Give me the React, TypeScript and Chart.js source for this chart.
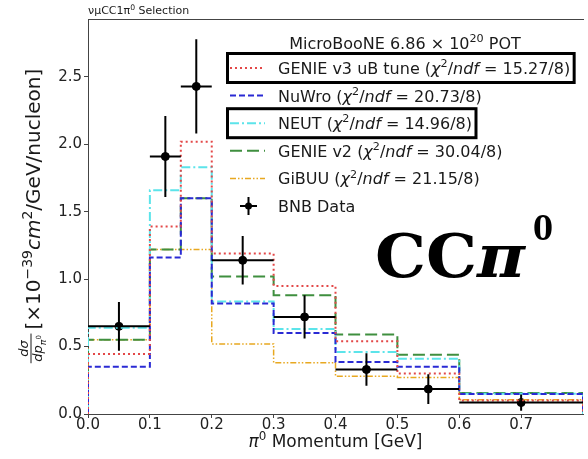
import React, { useEffect, useRef } from 'react';
import { Chart, registerables } from 'chart.js';

Chart.register(...registerables);

// Bin edges of the pi0 momentum histogram [GeV]
const binEdges = [0, 0.1, 0.15, 0.2, 0.3, 0.4, 0.5, 0.6, 0.8];
const xTickValues = [0, 0.1, 0.2, 0.3, 0.4, 0.5, 0.6, 0.7];
const yTickValues = [0, 0.5, 1.0, 1.5, 2.0, 2.5];

// Measured cross section (BNB data) and uncertainties, per bin
const dataValues = [0.65, 1.91, 2.43, 1.14, 0.72, 0.33, 0.185, 0.085];
const dataErrors = [0.18, 0.3, 0.35, 0.18, 0.16, 0.12, 0.11, 0.06];

// Generator predictions, per bin
const genieV3Values = [0.445, 1.39, 2.02, 1.19, 0.95, 0.54, 0.3, 0.1];
const nuwroValues = [0.35, 1.16, 1.6, 0.82, 0.6, 0.385, 0.35, 0.148];
const neutValues = [0.64, 1.66, 1.83, 0.835, 0.63, 0.46, 0.41, 0.15];
const genieV2Values = [0.55, 1.22, 1.6, 1.02, 0.88, 0.59, 0.44, 0.155];
const gibuuValues = [0.55, 1.22, 1.22, 0.52, 0.38, 0.28, 0.27, 0.105];

const modelNames = ['GENIE v3 uB tune', 'NuWro', 'NEUT', 'GENIE v2', 'GiBUU'];
const chi2Labels = ['15.27/8', '20.73/8', '14.96/8', '30.04/8', '21.15/8'];
const boxedModels = [0, 2];

const FONT = 'DejaVu Sans';
const SERIF = 'DejaVu Serif';

type Style = { color: string; width: number; dash: number[] };
const modelStyles: Style[] = [
  { color: '#e34848', width: 2, dash: [2, 3] },
  { color: '#2a2ad4', width: 2, dash: [6, 3] },
  { color: '#5ce4ea', width: 2, dash: [9, 3, 2, 3] },
  { color: '#3f8f3f', width: 2, dash: [12, 5] },
  { color: '#e8a820', width: 1.5, dash: [6, 2, 1.5, 2, 1.5, 2] },
];
const modelValues = [genieV3Values, nuwroValues, neutValues, genieV2Values, gibuuValues];

// Outline of a step histogram: rise at the first edge, one level per bin, drop at the last edge
function stepPoints(values: number[]) {
  const pts: { x: number; y: number }[] = [{ x: binEdges[0], y: 0 }];
  values.forEach((v, i) => pts.push({ x: binEdges[i], y: v }));
  pts.push({ x: binEdges[binEdges.length - 1], y: values[values.length - 1] });
  pts.push({ x: binEdges[binEdges.length - 1], y: 0 });
  return pts;
}

type Run = { t: string; it?: boolean; b?: boolean; s?: number; dy?: number; fam?: string };

function runFont(r: Run, size: number, fam: string) {
  return `${r.it ? 'italic ' : ''}${r.b ? 'bold ' : ''}${size * (r.s ?? 1)}px "${r.fam ?? fam}"`;
}
function measureRuns(ctx: CanvasRenderingContext2D, runs: Run[], size: number, fam: string) {
  let w = 0;
  for (const r of runs) {
    ctx.font = runFont(r, size, fam);
    w += ctx.measureText(r.t).width;
  }
  return w;
}
function drawRuns(ctx: CanvasRenderingContext2D, runs: Run[], x: number, y: number, size: number, fam: string) {
  let cx = x;
  ctx.textAlign = 'left';
  ctx.textBaseline = 'alphabetic';
  for (const r of runs) {
    ctx.font = runFont(r, size, fam);
    ctx.fillText(r.t, cx, y + (r.dy ?? 0) * size);
    cx += ctx.measureText(r.t).width;
  }
  return cx;
}

const decorPlugin = {
  id: 'decor',
  afterDatasetsDraw(chart: any) {
    const ctx: CanvasRenderingContext2D = chart.ctx;
    const xs = chart.scales.x;
    const ys = chart.scales.y;
    const area = chart.chartArea;

    // error bars of the data points
    ctx.save();
    ctx.beginPath();
    ctx.rect(area.left, area.top, area.right - area.left, area.bottom - area.top);
    ctx.clip();
    ctx.strokeStyle = '#000';
    ctx.lineWidth = 2;
    dataValues.forEach((v, i) => {
      const xc = xs.getPixelForValue((binEdges[i] + binEdges[i + 1]) / 2);
      const y = ys.getPixelForValue(v);
      ctx.beginPath();
      ctx.moveTo(xs.getPixelForValue(binEdges[i]), y);
      ctx.lineTo(xs.getPixelForValue(binEdges[i + 1]), y);
      ctx.moveTo(xc, ys.getPixelForValue(v - dataErrors[i]));
      ctx.lineTo(xc, ys.getPixelForValue(v + dataErrors[i]));
      ctx.stroke();
    });
    ctx.restore();
  },
  afterDraw(chart: any) {
    const ctx: CanvasRenderingContext2D = chart.ctx;
    const area = chart.chartArea;
    ctx.save();

    // top frame line
    ctx.strokeStyle = '#444';
    ctx.lineWidth = 1;
    ctx.beginPath();
    ctx.moveTo(area.left, area.top + 0.5);
    ctx.lineTo(area.right + 1, area.top + 0.5);
    ctx.stroke();

    ctx.fillStyle = '#1a1a1a';

    // selection title
    drawRuns(ctx, [{ t: 'νμCC1π' }, { t: '0', s: 0.7, dy: -0.4 }, { t: ' Selection' }], area.left, 14, 11, FONT);

    // x axis title
    const xRuns: Run[] = [{ t: 'π', it: true }, { t: '0', s: 0.7, dy: -0.42 }, { t: ' Momentum [GeV]' }];
    const xw = measureRuns(ctx, xRuns, 17, FONT);
    drawRuns(ctx, xRuns, (area.left + area.right) / 2 - xw / 2, 447, 17, FONT);

    // y axis title (rotated)
    ctx.save();
    ctx.translate(40, 216);
    ctx.rotate(-Math.PI / 2);
    const fs = 13;
    const numRuns: Run[] = [{ t: 'dσ', it: true }];
    const denRuns: Run[] = [{ t: 'dp', it: true }, { t: 'π', it: true, s: 0.72, dy: 0.3 }, { t: '0', s: 0.55, dy: -0.05 }];
    const numW = measureRuns(ctx, numRuns, fs, FONT);
    const denW = measureRuns(ctx, denRuns, fs, FONT);
    const fracW = Math.max(numW, denW) + 3;
    const mainRuns: Run[] = [
      { t: '[×10' },
      { t: '−39', s: 0.7, dy: -0.42 },
      { t: 'cm', it: true },
      { t: '2', s: 0.7, dy: -0.42 },
      { t: '/GeV/nucleon]' },
    ];
    const mainW = measureRuns(ctx, mainRuns, 20, FONT);
    const total = fracW + 4 + mainW;
    const u0 = -total / 2;
    drawRuns(ctx, numRuns, u0 + (fracW - numW) / 2, -12, fs, FONT);
    drawRuns(ctx, denRuns, u0 + (fracW - denW) / 2, 2, fs, FONT);
    ctx.strokeStyle = '#1a1a1a';
    ctx.lineWidth = 1;
    ctx.beginPath();
    ctx.moveTo(u0, -9);
    ctx.lineTo(u0 + fracW, -9);
    ctx.stroke();
    drawRuns(ctx, mainRuns, u0 + fracW + 4, 0, 20, FONT);
    ctx.restore();

    // legend header
    const hRuns: Run[] = [{ t: 'MicroBooNE 6.86 × 10' }, { t: '20', s: 0.7, dy: -0.42 }, { t: ' POT' }];
    const hw = measureRuns(ctx, hRuns, 16, FONT);
    drawRuns(ctx, hRuns, 405 - hw / 2, 49, 16, FONT);

    // legend entries
    const rowY = (i: number) => 68 + i * 27.6;
    modelNames.forEach((name, i) => {
      const st = modelStyles[i];
      const y = rowY(i);
      ctx.strokeStyle = st.color;
      ctx.lineWidth = st.width;
      ctx.setLineDash(st.dash);
      ctx.beginPath();
      ctx.moveTo(230, y);
      ctx.lineTo(265, y);
      ctx.stroke();
      ctx.setLineDash([]);
      ctx.fillStyle = '#1a1a1a';
      const runs: Run[] = [
        { t: name + ' (' },
        { t: 'χ', it: true },
        { t: '2', s: 0.7, dy: -0.42 },
        { t: '/' },
        { t: 'ndf', it: true },
        { t: ' = ' + chi2Labels[i] + ')' },
      ];
      const end = drawRuns(ctx, runs, 278, y + 6, 16, FONT);
      if (boxedModels.includes(i)) {
        ctx.strokeStyle = '#000';
        ctx.lineWidth = 3;
        ctx.strokeRect(227.5, y - 14.5, end - 227.5 + 4, 29);
      }
    });
    // data legend handle
    const dy = rowY(5);
    ctx.strokeStyle = '#000';
    ctx.lineWidth = 2;
    ctx.beginPath();
    ctx.moveTo(240, dy);
    ctx.lineTo(257, dy);
    ctx.moveTo(248.5, dy - 9);
    ctx.lineTo(248.5, dy + 9);
    ctx.stroke();
    ctx.fillStyle = '#000';
    ctx.beginPath();
    ctx.arc(248.5, dy, 3.5, 0, Math.PI * 2);
    ctx.fill();
    ctx.fillStyle = '#1a1a1a';
    drawRuns(ctx, [{ t: 'BNB Data' }], 278, dy + 6, 16, FONT);

    // process label
    ctx.fillStyle = '#000';
    const drawStretched = (r: Run, size: number, x: number, y: number, w: number) => {
      ctx.font = runFont(r, size, SERIF);
      const m = ctx.measureText(r.t).width;
      ctx.save();
      ctx.translate(x, y);
      ctx.scale(w / m, 1);
      ctx.textAlign = 'left';
      ctx.fillText(r.t, 0, 0);
      ctx.restore();
    };
    drawStretched({ t: 'CC', b: true }, 60, 375, 277, 102);
    drawStretched({ t: 'π', b: true, it: true }, 60, 477, 277, 48);
    drawStretched({ t: '0', b: true }, 34, 533, 240, 20);

    ctx.restore();
  },
};

export default function App() {
  const ref = useRef<HTMLCanvasElement>(null);
  useEffect(() => {
    const canvas = ref.current!;
    const histDatasets = modelValues.map((vals, i) => ({
      type: 'line' as const,
      label: modelNames[i],
      data: stepPoints(vals),
      stepped: 'before' as const,
      borderColor: modelStyles[i].color,
      borderWidth: modelStyles[i].width,
      borderDash: modelStyles[i].dash,
      pointRadius: 0,
      fill: false,
      tension: 0,
    }));
    const dataset = {
      type: 'line' as const,
      label: 'BNB Data',
      data: dataValues.map((v, i) => ({ x: (binEdges[i] + binEdges[i + 1]) / 2, y: v })),
      showLine: false,
      pointRadius: 4,
      pointBackgroundColor: '#000',
      pointBorderColor: '#000',
      borderColor: '#000',
    };
    const tickFont = { family: FONT, size: 15 };
    const chart = new Chart(canvas, {
      type: 'line',
      data: { datasets: [...histDatasets, dataset] as any },
      options: {
        responsive: false,
        animation: false,
        devicePixelRatio: 1,
        events: [],
        layout: { padding: { left: 0, top: 19, right: 1, bottom: 0 } },
        plugins: { legend: { display: false }, tooltip: { enabled: false } },
        scales: {
          x: {
            type: 'linear',
            min: 0,
            max: 0.8,
            afterBuildTicks: (s: any) => {
              s.ticks = xTickValues.map((v) => ({ value: v }));
            },
            afterFit: (s: any) => {
              s.height = 45;
            },
            ticks: {
              callback: (v: any) => Number(v).toFixed(1),
              font: tickFont,
              color: '#222',
              padding: -2,
              maxRotation: 0,
              autoSkip: false,
            },
            grid: { drawOnChartArea: false, drawTicks: true, tickLength: 4, color: '#444' },
            border: { display: true, color: '#444', width: 1 },
          },
          y: {
            type: 'linear',
            min: 0,
            max: 2.93,
            afterBuildTicks: (s: any) => {
              s.ticks = yTickValues.map((v) => ({ value: v }));
            },
            afterFit: (s: any) => {
              s.width = 88;
            },
            ticks: {
              callback: (v: any) => Number(v).toFixed(1),
              font: tickFont,
              color: '#222',
              padding: 2,
            },
            grid: { drawOnChartArea: false, drawTicks: true, tickLength: 4, color: '#444' },
            border: { display: true, color: '#444', width: 1 },
          },
        },
      } as any,
      plugins: [decorPlugin],
    });
    return () => chart.destroy();
  }, []);
  return (
    <canvas
      ref={ref}
      width={588}
      height={459}
      style={{ position: 'fixed', left: 0, top: 0, width: 588, height: 459, background: '#fff' }}
    />
  );
}
